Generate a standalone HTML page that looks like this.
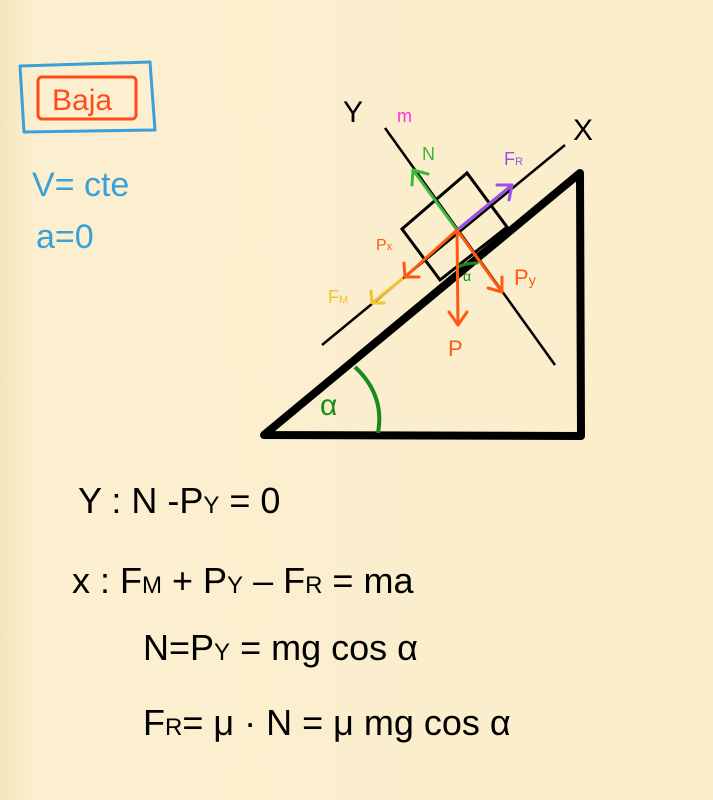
<!DOCTYPE html>
<html><head><meta charset="utf-8">
<style>
html,body{margin:0;padding:0;width:713px;height:800px;overflow:hidden;background:#fbeecb;}
svg{display:block;}
text{font-family:"Liberation Sans",sans-serif;}
</style></head>
<body>
<svg width="713" height="800" viewBox="0 0 713 800">
<defs>
<linearGradient id="bg" x1="0" x2="1" y1="0" y2="0">
<stop offset="0" stop-color="#f6e6bf"/><stop offset="0.05" stop-color="#fbefd0"/><stop offset="1" stop-color="#fbeecb"/>
</linearGradient>
</defs>
<rect width="713" height="800" fill="url(#bg)"/>

<g>
<path d="M20 66 L150 62 L155 130 L24 132 Z" fill="none" stroke="#3aa0d8" stroke-width="3" stroke-linejoin="round"/>
<rect x="38" y="77" width="98" height="42" rx="4" fill="none" stroke="#ff4a1a" stroke-width="3"/>
<text x="52" y="110" font-size="30" fill="#ff4a1a">Baja</text>
</g>
<text x="32" y="196" font-size="34" fill="#3aa0d8">V= cte</text>
<text x="36" y="248" font-size="34" fill="#3aa0d8">a=0</text>

<polygon points="264,435 580,173 581,436" fill="none" stroke="#000" stroke-width="8" stroke-linejoin="round"/>
<path d="M355 367 Q385 395 378 433" fill="none" stroke="#1a8a1a" stroke-width="4"/>
<text x="320" y="415" font-size="30" fill="#1a8a1a">α</text>

<line x1="322" y1="345" x2="565" y2="145" stroke="#000" stroke-width="2.5"/>
<line x1="385" y1="128" x2="555" y2="365" stroke="#000" stroke-width="2.5"/>
<text x="573" y="140" font-size="30" fill="#000">X</text>
<text x="343" y="122" font-size="30" fill="#000">Y</text>
<text x="397" y="122" font-size="18" fill="#ff30e0">m</text>

<polygon points="402,229 467,173 507,227 440,280" fill="none" stroke="#000" stroke-width="3"/>

<g stroke-width="3" fill="none" stroke-linecap="round" stroke-linejoin="round">
<path d="M457 230 L413 170 M412 185 L413 170 L428 174" stroke="#3cb83c"/>
<path d="M457 230 L512 185 M497 185 L512 185 L509 200" stroke="#9a50e8"/>
<path d="M457 230 L458 325 M449 312 L458 325 L467 312" stroke="#ff5a10"/>
<path d="M457 230 L502 292 M488 288 L502 292 L502 277" stroke="#ff5a10"/>
<path d="M457 230 L405 277 M404 263 L405 277 L419 277" stroke="#ff5a10"/>
<path d="M402 279 L372 303 M371 291 L372 303 L384 303" stroke="#f5c030"/>
<path d="M460 266 Q468 263 477 263" stroke="#1a8a1a"/>
</g>
<text x="422" y="160" font-size="18" fill="#3cb83c">N</text>
<text x="504" y="165" font-size="18" fill="#9a50e8">F<tspan font-size="11">R</tspan></text>
<text x="448" y="356" font-size="22" fill="#ff5a10">P</text>
<text x="514" y="285" font-size="22" fill="#ff5a10">P<tspan font-size="14">y</tspan></text>
<text x="376" y="250" font-size="16" fill="#ff5a10">P<tspan font-size="11">x</tspan></text>
<text x="328" y="303" font-size="18" fill="#f5c030">F<tspan font-size="11">M</tspan></text>
<text x="463" y="281" font-size="14" fill="#1a8a1a">α</text>

<g fill="#000" font-size="36">
<text x="78" y="513">Y : N -P<tspan font-size="24">Y</tspan> = 0</text>
<text x="72" y="593">x : F<tspan font-size="24">M</tspan> + P<tspan font-size="24">Y</tspan> – F<tspan font-size="24">R</tspan> = ma</text>
<text x="143" y="660">N=P<tspan font-size="24">Y</tspan> = mg cos α</text>
<text x="143" y="735">F<tspan font-size="24">R</tspan>= μ · N = μ mg cos α</text>
</g>
</svg>
</body></html>
